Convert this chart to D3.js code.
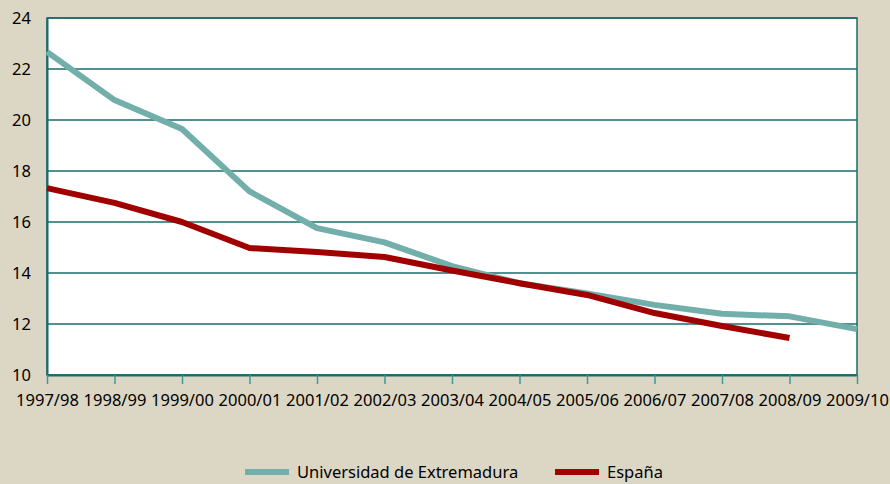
<!DOCTYPE html>
<html>
<head>
<meta charset="utf-8">
<script src="https://cdn.jsdelivr.net/npm/d3@7"></script>
<style>
  html, body { margin: 0; padding: 0; background: #dcd6c4; }
  svg { display: block; font-family: "Noto Sans", sans-serif; }
</style>
</head>
<body>
<svg></svg>
<script>
// ─── DATA ─────────────────────────────────────────────────────────────────────

const years = ["1997/98", "1998/99", "1999/00", "2000/01", "2001/02", "2002/03",
  "2003/04", "2004/05", "2005/06", "2006/07", "2007/08", "2008/09", "2009/10"];
const extremadura = [22.67, 20.78, 19.65, 17.2, 15.76, 15.2, 14.27, 13.6, 13.2, 12.75, 12.4, 12.3, 11.8];
const espana = [17.33, 16.75, 16.0, 14.98, 14.82, 14.63, 14.1, 13.6, 13.14, 12.43, 11.92, 11.45];
const yTicks = [10, 12, 14, 16, 18, 20, 22, 24];

const series = [
  { name: "Universidad de Extremadura", values: extremadura, color: "#72aeaa" },
  { name: "España", values: espana, color: "#a00000" },
];

// ─── DIMENSIONS & SCALES ─────────────────────────────────────────────────────

const width = 890,
  height = 484,
  margin = { top: 18, right: 33, bottom: 109, left: 47 },
  fontSize = 16.5,
  fontFamily = "Noto Sans, sans-serif";

const svg = d3.select("svg").attr("width", width).attr("height", height);

const x = d3.scalePoint().domain(years).range([margin.left, width - margin.right]);
const y = d3.scaleLinear().domain([10, 24]).range([height - margin.bottom, margin.top]);

const gridColor = "#1b6b6b";

// plot background
svg.append("rect")
  .attr("x", margin.left).attr("y", margin.top)
  .attr("width", width - margin.left - margin.right)
  .attr("height", height - margin.top - margin.bottom)
  .attr("fill", "#fff");

// ─── GRID & AXES ─────────────────────────────────────────────────────────────

svg.append("g")
  .selectAll("line")
  .data(yTicks)
  .join("line")
  .attr("x1", margin.left).attr("x2", width - margin.right)
  .attr("y1", (d) => y(d)).attr("y2", (d) => y(d))
  .attr("stroke", gridColor).attr("stroke-width", 1.3);

// frame
svg.append("rect")
  .attr("x", margin.left).attr("y", margin.top)
  .attr("width", width - margin.left - margin.right)
  .attr("height", height - margin.top - margin.bottom)
  .attr("fill", "none").attr("stroke", gridColor).attr("stroke-width", 1.5);

const yAxis = svg.append("g")
  .attr("transform", `translate(${margin.left},0)`)
  .call(d3.axisLeft(y).tickValues(yTicks).tickSize(0).tickPadding(16));
yAxis.select(".domain").attr("stroke", gridColor).attr("stroke-width", 2);
yAxis.selectAll("text").attr("font-size", fontSize).attr("fill", "#000")
  .attr("font-family", fontFamily);

const xAxis = svg.append("g")
  .attr("transform", `translate(0,${height - margin.bottom})`)
  .call(d3.axisBottom(x).tickSize(9).tickPadding(10).tickSizeOuter(0));
xAxis.select(".domain").attr("stroke", gridColor).attr("stroke-width", 2);
xAxis.selectAll(".tick line").attr("stroke", "#3f9a98").attr("stroke-width", 1.5);
xAxis.selectAll("text").attr("font-size", fontSize).attr("fill", "#000")
  .attr("font-family", fontFamily);

// ─── LINES ───────────────────────────────────────────────────────────────────

const line = d3.line()
  .x((d, i) => x(years[i]))
  .y((d) => y(d));

svg.append("g")
  .attr("fill", "none")
  .selectAll("path")
  .data(series)
  .join("path")
  .attr("d", (d) => line(d.values))
  .attr("stroke", (d) => d.color)
  .attr("stroke-width", 6)
  .attr("stroke-linejoin", "round");

// ─── LEGEND ──────────────────────────────────────────────────────────────────

const legendX = [245, 555];
const legend = svg.append("g")
  .selectAll("g")
  .data(series)
  .join("g")
  .attr("transform", (d, i) => `translate(${legendX[i]},472)`);

legend.append("line")
  .attr("x1", 0).attr("x2", 44)
  .attr("stroke", (d) => d.color).attr("stroke-width", 6);

legend.append("text")
  .attr("x", 52).attr("y", 0).attr("dy", "0.36em")
  .attr("font-size", fontSize).attr("fill", "#000")
  .text((d) => d.name);
</script>
</body>
</html>
